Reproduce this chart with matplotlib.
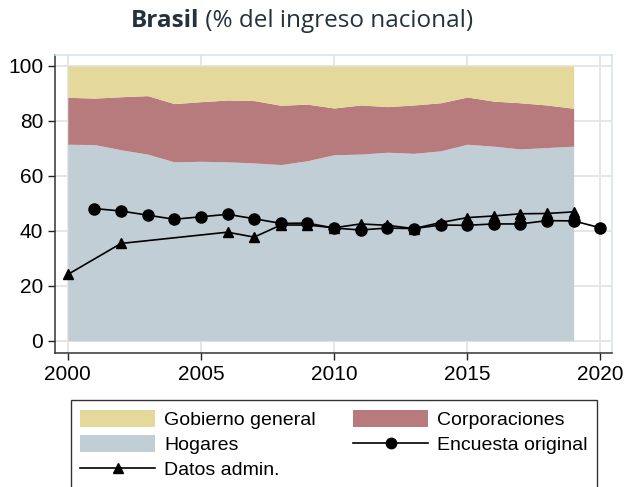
import matplotlib
matplotlib.use("Agg")
import matplotlib.pyplot as plt
from matplotlib.patches import Patch
from matplotlib.lines import Line2D
import numpy as np

# ---- data ----
years_area = list(range(2000, 2020))
hogares = [71.5, 71.4, 69.5, 67.9, 65.1, 65.3, 65.1, 64.7, 64.1, 65.5,
           67.7, 67.9, 68.6, 68.2, 69.1, 71.5, 70.8, 69.8, 70.3, 70.8]
corporaciones = [17.1, 16.9, 19.3, 21.3, 21.2, 21.7, 22.5, 22.7, 21.6, 20.6,
                 17.0, 17.9, 16.6, 17.6, 17.5, 17.2, 16.4, 16.8, 15.5, 13.8]
gobierno = [11.4, 11.7, 11.2, 10.8, 13.7, 13.0, 12.4, 12.6, 14.3, 13.9,
            15.3, 14.2, 14.8, 14.2, 13.4, 11.3, 12.8, 13.4, 14.2, 15.4]

years_enc = list(range(2001, 2021))
encuesta = [48.1, 47.2, 45.7, 44.2, 45.1, 46.0, 44.4, 42.7, 42.8, 41.0,
            40.3, 41.0, 40.8, 42.1, 42.0, 42.5, 42.5, 43.7, 43.6, 41.1]

years_adm = [2000, 2002, 2006, 2007, 2008, 2009, 2010, 2011, 2012, 2013,
             2014, 2015, 2016, 2017, 2018, 2019]
admin = [24.1, 35.4, 39.5, 37.7, 42.1, 42.1, 41.1, 42.5, 42.0, 40.8,
         43.0, 44.8, 45.4, 46.2, 46.3, 46.9]

xticks = [2000, 2005, 2010, 2015, 2020]
yticks = [0, 20, 40, 60, 80, 100]

labels = ["Gobierno general", "Hogares", "Datos admin.", "Corporaciones", "Encuesta original"]

# ---- style ----
c_gob = "#e5d89b"
c_corp = "#b77b7e"
c_hog = "#c1ced6"
W, H = 627, 487
plt.rcParams['font.family'] = ['Liberation Sans', 'DejaVu Sans']

fig = plt.figure(figsize=(W / 100, H / 100), dpi=100)
ax = fig.add_axes([55 / W, (H - 352.7) / H, (612 - 55) / W, (352.7 - 54.7) / H])

h = np.array(hogares)
c = np.array(corporaciones)
g = np.array(gobierno)
ax.fill_between(years_area, 0, h, color=c_hog, lw=0, zorder=2)
ax.fill_between(years_area, h, h + c, color=c_corp, lw=0, zorder=2)
ax.fill_between(years_area, h + c, h + c + g, color=c_gob, lw=0, zorder=2)

ax.plot(years_adm, admin, color="black", lw=1.2, marker="^", ms=7.5, zorder=3)
ax.plot(years_enc, encuesta, color="black", lw=1.2, marker="o", ms=8, zorder=4)

ax.set_xlim(1999.52, 2020.44)
ax.set_ylim(-4.37, 104.1)
ax.set_xticks(xticks)
ax.set_yticks(yticks)
ax.tick_params(labelsize=15, length=5, width=1, color="#222222", direction="out")
ax.grid(True, color="#e4e4e4", lw=1.3, zorder=1)
ax.set_axisbelow(True)
for s in ["left", "bottom"]:
    ax.spines[s].set_color("#333333")
    ax.spines[s].set_linewidth(1.1)
for s in ["top", "right"]:
    ax.spines[s].set_color("#d3e3ec")
    ax.spines[s].set_linewidth(1.1)

# ---- legend ----
handles = [
    Patch(facecolor=c_gob, edgecolor="none"),
    Patch(facecolor=c_hog, edgecolor="none"),
    Line2D([], [], color="black", lw=1.2, marker="^", ms=7),
    Patch(facecolor=c_corp, edgecolor="none"),
    Line2D([], [], color="black", lw=1.2, marker="o", ms=7.5),
]
leg = fig.legend(handles, labels, ncol=2, loc="upper left",
                 bbox_to_anchor=(70.7 / W, 0, (597.3 - 70.7) / W, 1 - 400 / H),
                 mode="expand", borderaxespad=0, fontsize=14,
                 handlelength=3.85, handleheight=1.0, handletextpad=0.45,
                 labelspacing=0.3, borderpad=0.5, fancybox=False,
                 edgecolor="#333333", framealpha=1)
leg.get_frame().set_linewidth(1.0)

# ---- title ----
tcol = "#24323d"
fam = ["Open Sans", "DejaVu Sans"]
t1 = fig.text(0, 1 - 21 / H, "Brasil", fontsize=17.5, fontweight="bold", color=tcol,
              family=fam, va="center", ha="left")
t2 = fig.text(0, 1 - 21 / H, " (% del ingreso nacional)", fontsize=17.5, color=tcol,
              family=fam, va="center", ha="left")
fig.canvas.draw()
r = fig.canvas.get_renderer()
w1 = t1.get_window_extent(r).width
w2 = t2.get_window_extent(r).width
x0 = 302 - (w1 + w2) / 2
t1.set_x(x0 / W)
t2.set_x((x0 + w1) / W)

fig.savefig("out.png", dpi=100)
